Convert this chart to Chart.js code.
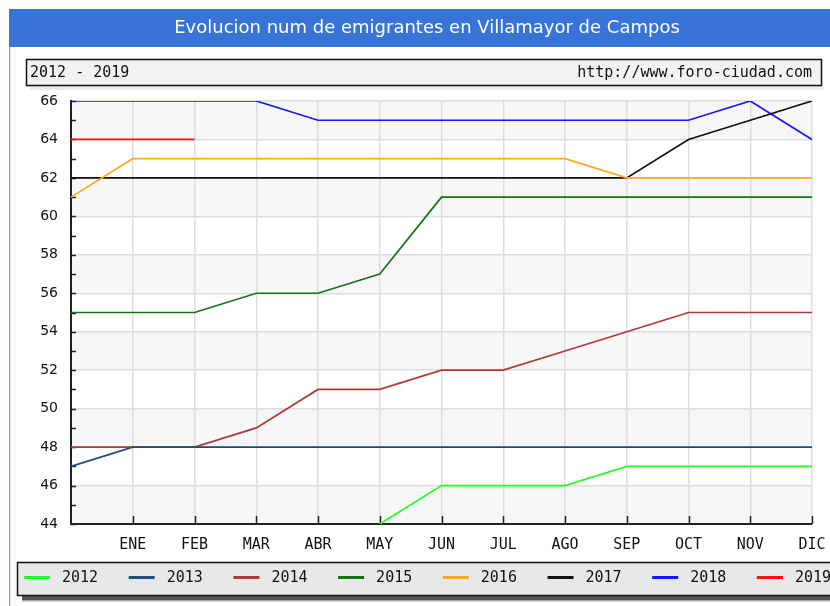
<!DOCTYPE html>
<html>
<head>
<meta charset="utf-8">
<script src="https://cdn.jsdelivr.net/npm/chart.js@4/dist/chart.umd.min.js"></script>
<style>
html,body{margin:0;padding:0;background:#fff;}
#wrap{width:830px;height:606px;position:relative;}
</style>
</head>
<body>
<div id="wrap"><canvas id="c" width="830" height="606"></canvas></div>
<script>
const TITLE = "Evolucion num de emigrantes en Villamayor de Campos";
const PERIOD = "2012 - 2019";
const SOURCE = "http://www.foro-ciudad.com";
const months = ["", "ENE", "FEB", "MAR", "ABR", "MAY", "JUN", "JUL", "AGO", "SEP", "OCT", "NOV", "DIC"];
const years = ["2012", "2013", "2014", "2015", "2016", "2017", "2018", "2019"];
const v2012 = [null, null, null, null, null, 44, 46, 46, 46, 47, 47, 47, 47];
const v2013 = [47, 48, 48, 48, 48, 48, 48, 48, 48, 48, 48, 48, 48];
const v2014 = [48, 48, 48, 49, 51, 51, 52, 52, 53, 54, 55, 55, 55];
const v2015 = [55, 55, 55, 56, 56, 57, 61, 61, 61, 61, 61, 61, 61];
const v2016 = [61, 63, 63, 63, 63, 63, 63, 63, 63, 62, 62, 62, 62];
const v2017 = [62, 62, 62, 62, 62, 62, 62, 62, 62, 62, 64, 65, 66];
const v2018 = [66, 66, 66, 66, 65, 65, 65, 65, 65, 65, 65, 66, 64];
const v2019 = [64, 64, 64, null, null, null, null, null, null, null, null, null, null];
const yMin = 44, yMax = 66;
const seriesValues = [v2012, v2013, v2014, v2015, v2016, v2017, v2018, v2019];
const colors = ["#22ff22", "#1f4f7f", "#b03838", "#137513", "#ffaa1a", "#111111", "#1515ff", "#ff1010"];

const datasets = years.map((y, i) => ({
  label: y,
  data: seriesValues[i],
  borderColor: colors[i],
  backgroundColor: colors[i],
  borderWidth: 1.7,
  pointRadius: 0,
  pointHoverRadius: 0,
  tension: 0,
  fill: false,
  spanGaps: false
}));

const decor = {
  id: 'decor',
  beforeDraw(chart) {
    const ctx = chart.ctx;
    const W = chart.width, H = chart.height;
    ctx.save();
    ctx.fillStyle = '#ffffff';
    ctx.fillRect(0, 0, W, H);
    // title bar
    ctx.fillStyle = '#3874d8';
    ctx.fillRect(9, 9, W - 9, 38);
    ctx.fillStyle = '#ffffff';
    ctx.font = '18px "DejaVu Sans"';
    ctx.textAlign = 'center';
    ctx.textBaseline = 'middle';
    ctx.fillText(TITLE, 427, 28);
    // left frame line
    ctx.fillStyle = '#7aa3ea';
    ctx.fillRect(9, 47, 1.3, H - 47);
    // header box shadow
    ctx.fillStyle = '#ececec';
    ctx.fillRect(30, 86, 794, 4);
    // header box
    ctx.fillStyle = '#f2f2f2';
    ctx.fillRect(26, 59, 796, 27);
    ctx.strokeStyle = '#111';
    ctx.lineWidth = 1.5;
    ctx.strokeRect(26.5, 59.5, 795, 26);
    ctx.fillStyle = '#111';
    ctx.font = '15px "DejaVu Sans Mono"';
    ctx.textBaseline = 'middle';
    ctx.textAlign = 'left';
    ctx.fillText(PERIOD, 30, 73);
    ctx.textAlign = 'right';
    ctx.fillText(SOURCE, 812, 73);
    // legend shadow
    ctx.fillStyle = '#555';
    ctx.fillRect(22, 596, W - 22, 4);
    ctx.fillStyle = '#aaa';
    ctx.fillRect(22, 600, W - 22, 1.5);
    // legend box
    ctx.fillStyle = '#e8e8e8';
    ctx.fillRect(17, 562, W - 17, 34);
    ctx.strokeStyle = '#111';
    ctx.lineWidth = 1.5;
    ctx.strokeRect(17.5, 562.5, W, 33);
    ctx.font = '15px "DejaVu Sans Mono"';
    ctx.textAlign = 'left';
    chart.data.datasets.forEach((ds, i) => {
      const x0 = 24 + i * 104.7;
      ctx.fillStyle = ds.borderColor;
      ctx.fillRect(x0, 576, 26, 3);
      ctx.fillStyle = '#111';
      ctx.fillText(ds.label, x0 + 38, 578);
    });
    // plot bands
    const a = chart.chartArea, ys = chart.scales.y;
    for (let v = yMin; v < yMax; v += 2) {
      if (((v - yMin) / 2) % 2 === 0) {
        const t = ys.getPixelForValue(v + 2), b = ys.getPixelForValue(v);
        ctx.fillStyle = '#f7f7f7';
        ctx.fillRect(a.left, t, a.right - a.left, b - t);
      }
    }
    ctx.restore();
  },
  beforeDatasetsDraw(chart) {
    const ctx = chart.ctx, a = chart.chartArea, ys = chart.scales.y, xs = chart.scales.x;
    ctx.save();
    ctx.strokeStyle = '#222';
    ctx.lineWidth = 2;
    ctx.beginPath();
    ctx.moveTo(a.left, a.top - 1);
    ctx.lineTo(a.left, a.bottom);
    ctx.lineTo(a.right, a.bottom);
    ctx.stroke();
    ctx.lineWidth = 1.5;
    ctx.beginPath();
    for (let v = yMin; v <= yMax; v++) {
      const y = Math.round(ys.getPixelForValue(v)) + 0.5;
      ctx.moveTo(a.left, y);
      ctx.lineTo(a.left + 5, y);
    }
    for (let i = 1; i < months.length; i++) {
      const x = Math.round(xs.getPixelForValue(i)) + 0.5;
      ctx.moveTo(x, a.bottom);
      ctx.lineTo(x, a.bottom - 8);
    }
    ctx.stroke();
    ctx.restore();
  }
};

new Chart(document.getElementById('c'), {
  type: 'line',
  data: { labels: months, datasets: datasets },
  plugins: [decor],
  options: {
    responsive: false,
    animation: false,
    events: [],
    layout: { padding: { left: 0, top: 101, right: 18, bottom: 0 } },
    plugins: { legend: { display: false }, title: { display: false }, tooltip: { enabled: false } },
    scales: {
      x: {
        offset: false,
        border: { display: false },
        grid: { color: '#dddddd', lineWidth: 1.5, drawTicks: false },
        ticks: { color: '#111', font: { family: 'DejaVu Sans Mono', size: 15 }, padding: 12, maxRotation: 0, autoSkip: false },
        afterFit(s) { s.height = 82; s.paddingLeft = 0; s.paddingRight = 0; }
      },
      y: {
        min: yMin, max: yMax,
        border: { display: false },
        grid: {
          drawTicks: false, lineWidth: 1.5,
          color: c => (c.tick && c.tick.value % 2 === 0) ? '#dddddd' : 'rgba(0,0,0,0)'
        },
        ticks: {
          stepSize: 1, autoSkip: false, padding: 13, color: '#111',
          font: { family: 'DejaVu Sans', size: 14 },
          callback: v => (v % 2 === 0 ? v : '')
        },
        afterFit(s) { s.width = 71; s.paddingTop = 0; s.paddingBottom = 0; }
      }
    }
  }
});
</script>
</body>
</html>
